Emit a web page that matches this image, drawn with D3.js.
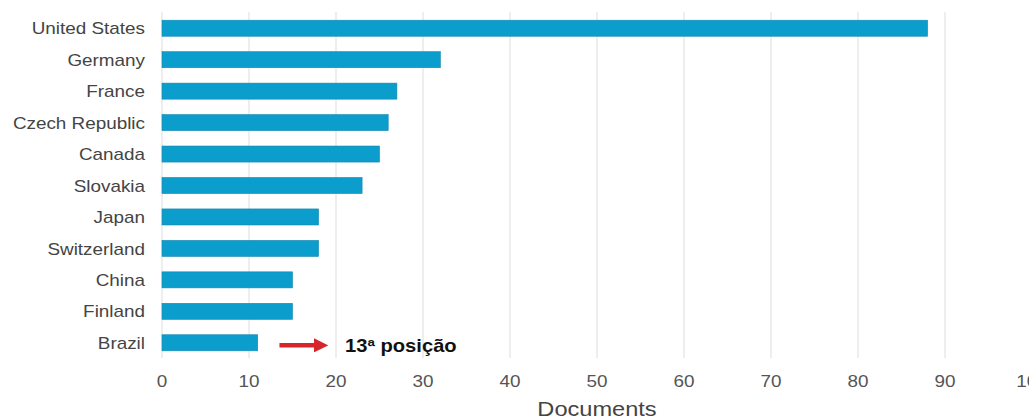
<!DOCTYPE html>
<html>
<head>
<meta charset="utf-8">
<script src="https://cdn.jsdelivr.net/npm/d3@7"></script>
<style>
  body { margin: 0; background: #fff; }
  svg { display: block; }
</style>
</head>
<body>
<div id="chart"></div>
<script>
// Data
const countries = ['United States', 'Germany', 'France', 'Czech Republic', 'Canada', 'Slovakia',
                   'Japan', 'Switzerland', 'China', 'Finland', 'Brazil'];
const documents = [88, 32, 27, 26, 25, 23, 18, 18, 15, 15, 11];
const xTicks = [0, 10, 20, 30, 40, 50, 60, 70, 80, 90, 100];
const note = { country: 'Brazil', from: 13.5, to: 19, label: '13ª posição' };

var width = 1029, height = 418;
var margin = { top: 12, left: 162 };
var plotRight = 1032, plotBottom = 358;
var stretch = 1.18; // the source picture is a little wider than tall

var svg = d3.select('#chart').append('svg')
    .attr('width', width)
    .attr('height', height)
    .attr('font-family', 'Liberation Sans, Arial, sans-serif');

var x = d3.scaleLinear()
    .domain([0, 100])
    .range([margin.left, plotRight]);

var y = d3.scaleBand()
    .domain(countries)
    .range([margin.top, plotBottom])
    .paddingInner(0.49)
    .paddingOuter(0.245);

function place(px, py) {
    return 'translate(' + px + ',' + py + ') scale(' + stretch + ',1)';
}

// Gridlines
svg.append('g')
    .selectAll('line')
    .data(xTicks)
    .enter()
    .append('line')
    .attr('x1', d => x(d))
    .attr('x2', d => x(d))
    .attr('y1', margin.top)
    .attr('y2', plotBottom)
    .attr('stroke', '#e3e3e3')
    .attr('stroke-width', 1.2);

// Bars
svg.append('g')
    .selectAll('rect')
    .data(countries)
    .enter()
    .append('rect')
    .attr('x', x(0))
    .attr('y', d => y(d) + 0.5)
    .attr('width', (d, i) => x(documents[i]) - x(0))
    .attr('height', y.bandwidth())
    .attr('fill', '#0b9dcb')
    .attr('stroke', '#1789b0')
    .attr('stroke-width', 0.6);

// Country labels
svg.append('g')
    .selectAll('text')
    .data(countries)
    .enter()
    .append('text')
    .attr('transform', d => place(145, y(d) + y.bandwidth() / 2 + 1))
    .attr('dy', '0.35em')
    .attr('text-anchor', 'end')
    .style('font-size', '16px')
    .style('fill', '#444')
    .text(d => d);

// X axis tick labels
svg.append('g')
    .selectAll('text')
    .data(xTicks)
    .enter()
    .append('text')
    .attr('transform', d => place(x(d), 381))
    .attr('dy', '0.35em')
    .attr('text-anchor', 'middle')
    .style('font-size', '16px')
    .style('fill', '#555')
    .text(d => d);

// Axis title
svg.append('text')
    .attr('transform', place((x(0) + x(100)) / 2, 416))
    .attr('text-anchor', 'middle')
    .style('font-size', '20px')
    .style('fill', '#444')
    .text('Documents');

// Annotation arrow
var ay = y(note.country) + y.bandwidth() / 2 + 3;
svg.append('defs').append('marker')
    .attr('id', 'head')
    .attr('viewBox', '0 0 10 10')
    .attr('refX', 1)
    .attr('refY', 5)
    .attr('markerWidth', 3.2)
    .attr('markerHeight', 3.2)
    .attr('markerUnits', 'strokeWidth')
    .attr('orient', 'auto')
    .append('path')
    .attr('d', 'M0,0 L10,5 L0,10 Z')
    .attr('fill', '#d7262b');

svg.append('line')
    .attr('x1', x(note.from))
    .attr('x2', x(note.to) - 12)
    .attr('y1', ay)
    .attr('y2', ay)
    .attr('stroke', '#d7262b')
    .attr('stroke-width', 4.5)
    .attr('marker-end', 'url(#head)');

svg.append('text')
    .attr('transform', 'translate(345,' + ay + ') scale(1.12,1)')
    .attr('dy', '0.35em')
    .style('font-size', '18px')
    .style('font-weight', 700)
    .style('fill', '#111')
    .text(note.label);
</script>
</body>
</html>
